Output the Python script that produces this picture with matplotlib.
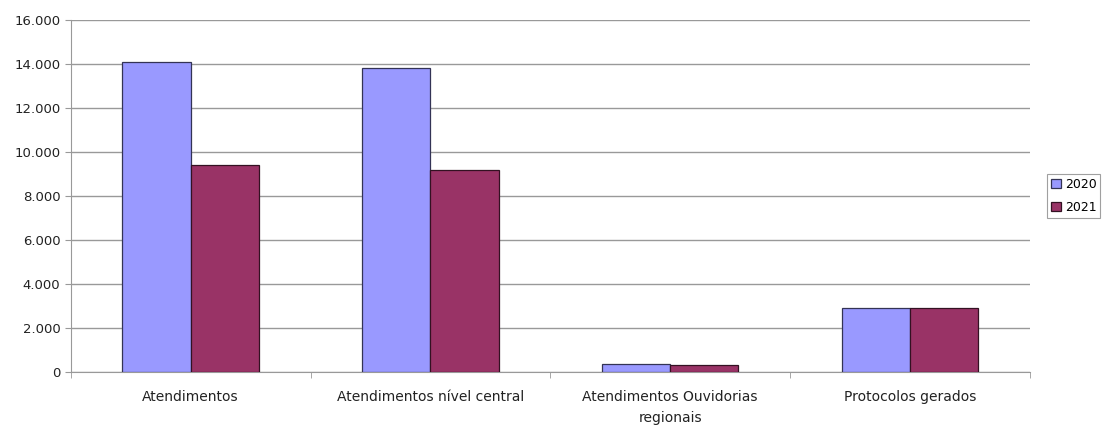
import matplotlib
matplotlib.use("Agg")
import matplotlib.pyplot as plt
import numpy as np
from matplotlib.ticker import FuncFormatter

categories = ["Atendimentos", "Atendimentos nível central", "Atendimentos Ouvidorias\nregionais", "Protocolos gerados"]
series_names = ["2020", "2021"]
values_2020 = [14100, 13800, 360, 2900]
values_2021 = [9400, 9200, 300, 2900]
yticks = [0, 2000, 4000, 6000, 8000, 10000, 12000, 14000, 16000]

plt.rcParams['font.family'] = ['DejaVu Sans']

fig = plt.figure(figsize=(11.06, 4.26), dpi=100)
ax = fig.add_axes([0.064, 0.127, 0.867, 0.826])

x = np.arange(len(categories))
w = 0.285
ax.bar(x - w/2, values_2020, w, color="#9999ff", edgecolor="#333355", linewidth=0.9, label=series_names[0], zorder=3)
ax.bar(x + w/2, values_2021, w, color="#993366", edgecolor="#331122", linewidth=0.9, label=series_names[1], zorder=3)

ax.set_xlim(-0.5, len(categories) - 0.5)
ax.set_ylim(0, 16000)
ax.set_yticks(yticks)
ax.yaxis.set_major_formatter(FuncFormatter(lambda v, p: f"{int(v):,}".replace(",", ".")))
ax.grid(axis="y", color="#999999", linewidth=1.0, zorder=0)
ax.set_axisbelow(True)

ax.set_xticks(x)
ax.set_xticklabels(categories, fontsize=10, color="#222222", linespacing=1.6)
ax.tick_params(axis="x", length=0, pad=13)
ax.set_xticks(np.arange(len(categories) + 1) - 0.5, minor=True)
ax.tick_params(axis="x", which="minor", length=4, color="#999999")
ax.tick_params(axis="y", labelsize=9.5, length=4, color="#999999", labelcolor="#222222")

for s in ["top", "right"]:
    ax.spines[s].set_visible(False)
ax.spines["left"].set_color("#999999")
ax.spines["bottom"].set_color("#999999")

leg = ax.legend(loc="center left", bbox_to_anchor=(1.012, 0.5), fontsize=9, frameon=True,
                fancybox=False, edgecolor="#888888", handlelength=0.8, handleheight=0.7,
                handletextpad=0.3, borderpad=0.3, labelspacing=0.8)
leg.get_frame().set_linewidth(0.8)

fig.savefig("out.png", dpi=100)
